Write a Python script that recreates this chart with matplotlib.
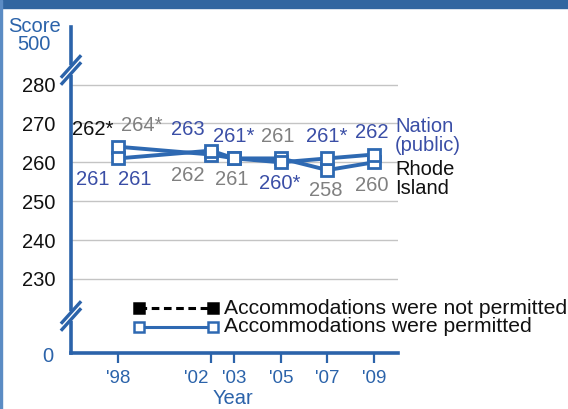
import matplotlib
matplotlib.use("Agg")
import matplotlib.pyplot as plt
import matplotlib.transforms as mtransforms
from matplotlib.lines import Line2D
from matplotlib.patches import Rectangle

plt.rcParams['font.family'] = ['Liberation Sans', 'DejaVu Sans']

# ---------------- data ----------------
years = [1998, 2002, 2003, 2005, 2007, 2009]
year_labels = ["'98", "'02", "'03", "'05", "'07", "'09"]
nation = [261, 263, 261, 260, 261, 262]
nation_sig = [False, False, True, True, True, False]
rhode_island = [264, 262, 261, 261, 258, 260]
ri_sig = [True, False, False, False, False, False]
# accommodations not permitted (1998 only)
nation_np = [261]
nation_np_sig = [False]
ri_np = [262]
ri_np_sig = [True]
np_years = [1998]
grid_ticks = [230, 240, 250, 260, 270, 280]

# ---------------- style ----------------
W, H = 568, 409
BLUE = '#2B63AA'
LINE = '#2E69B2'
NAT_TXT = '#3A4EA6'
GRAY_TXT = '#808080'
FS = 14.5

fig = plt.figure(figsize=(W / 100, H / 100), dpi=100)
fig.patch.set_facecolor('white')

def px(x, y):
    return x / W, 1 - y / H

# frame decorations
fig.patches.append(Rectangle((0, 1 - 8 / H), 1, 8 / H, transform=fig.transFigure,
                             color='#3166A0', zorder=0))
fig.patches.append(Rectangle((0, 0), 2 / W, 1, transform=fig.transFigure,
                             color='#5B8CC4', zorder=0))

left, right, bottom, top = 71, 398, 353, 27
ax = fig.add_axes([left / W, 1 - bottom / H, (right - left) / W, (bottom - top) / H])
ax.set_facecolor('none')

# fake linear scale around the broken axis
ax.set_xlim(1998 - (118 - left) / 23.27, 1998 + (right - 118) / 23.27)
ax.set_ylim(260 - (bottom - 162.3) / 3.89, 260 + (162.3 - top) / 3.89)

for s in ['top', 'right']:
    ax.spines[s].set_visible(False)
for s in ['left', 'bottom']:
    ax.spines[s].set_color(BLUE)
    ax.spines[s].set_linewidth(2.6)

ax.set_yticks(grid_ticks)
ax.set_yticklabels([str(t) for t in grid_ticks], fontsize=FS, color='#111111')
ax.tick_params(axis='y', length=0, pad=11)
ax.grid(axis='y', color='#C4C4C4', lw=1)
ax.set_axisbelow(True)

ax.set_xticks(years)
ax.set_xticklabels(year_labels, fontsize=13.5, color=BLUE)
ax.tick_params(axis='x', direction='out', length=7, width=1.6, color=BLUE, pad=5)
# nudge the crowded '02 label to the left, as in the original
lbl02 = ax.get_xticklabels()[1]
lbl02.set_transform(lbl02.get_transform() +
                    mtransforms.ScaledTranslation(-15 / 100, 0, fig.dpi_scale_trans))

# lines
mk = dict(marker='s', markersize=8, markerfacecolor='white', markeredgecolor=LINE,
          markeredgewidth=2, color=LINE, lw=2.8, clip_on=False, zorder=4)
ax.plot(years, rhode_island, **mk)
ax.plot(years, nation, **mk)

def lab(v, sig):
    return f"{v}*" if sig else f"{v}"

nat_off = [(17, 21), (-23, -21), (-1, -22), (-1, 21), (-1, -22), (-2, -22)]
ri_off = [(24, -21), (-23, 21), (-3, 21), (-3, -22), (-2, 20), (-2, 23)]
for x, v, s, (dx, dy) in zip(years, nation, nation_sig, nat_off):
    ax.annotate(lab(v, s), (x, v), xytext=(dx * 0.72, -dy * 0.72), textcoords='offset points',
                ha='center', va='center', fontsize=FS, color=NAT_TXT, zorder=5)
for x, v, s, (dx, dy) in zip(years, rhode_island, ri_sig, ri_off):
    ax.annotate(lab(v, s), (x, v), xytext=(dx * 0.72, -dy * 0.72), textcoords='offset points',
                ha='center', va='center', fontsize=FS, color=GRAY_TXT, zorder=5)
for x, v, s in zip(np_years, nation_np, nation_np_sig):
    ax.annotate(lab(v, s), (x, v), xytext=(-25 * 0.72, -21 * 0.72), textcoords='offset points',
                ha='center', va='center', fontsize=FS, color=NAT_TXT, zorder=5)
for x, v, s in zip(np_years, ri_np, ri_np_sig):
    ax.annotate(lab(v, s), (x, v), xytext=(-25 * 0.72, 25 * 0.72), textcoords='offset points',
                ha='center', va='center', fontsize=FS, color='#111111', zorder=5)

# series names at right
ax.annotate("Nation\n(public)", (years[-1], nation[-1]), xytext=(21 * 0.72, 18.5 * 0.72),
            textcoords='offset points', ha='left', va='center', fontsize=FS,
            color=NAT_TXT, linespacing=1.0, annotation_clip=False)
ax.annotate("Rhode\nIsland", (years[-1], rhode_island[-1]), xytext=(21 * 0.72, -17 * 0.72),
            textcoords='offset points', ha='left', va='center', fontsize=FS,
            color='#111111', linespacing=1.0, annotation_clip=False)

# axis labels and broken-axis values
fig.text(*px(35, 26), "Score", ha='center', va='center', fontsize=FS, color=BLUE)
fig.text(*px(51, 45), "500", ha='right', va='center', fontsize=FS, color=BLUE)
fig.text(*px(53, 356), "0", ha='right', va='center', fontsize=FS, color=BLUE)
fig.text(*px(233, 399), "Year", ha='center', va='center', fontsize=FS, color=BLUE)

# break marks
for yb in (70, 316):
    xs = [62, 80]
    for off in (-3.5, 3.5):
        ys = [yb + 10 + off, yb - 10 + off]
        fig.lines.append(Line2D([px(x, 0)[0] for x in xs], [px(0, y)[1] for y in ys],
                                transform=fig.transFigure, color=BLUE, lw=2.4, zorder=6))
    fig.lines.append(Line2D([px(71, 0)[0]] * 2, [px(0, yb - 2)[1], px(0, yb + 2)[1]],
                            transform=fig.transFigure, color='white', lw=4, zorder=5.5))

# legend (manual)
def leg_row(y, style, mfc, mec, color, text):
    fig.lines.append(Line2D([px(139, 0)[0], px(213, 0)[0]], [px(0, y)[1]] * 2,
                            transform=fig.transFigure, color=color, lw=2.2, linestyle=style,
                            marker='s', markersize=7, markerfacecolor=mfc,
                            markeredgecolor=mec, markeredgewidth=1.8, zorder=6))
    fig.text(*px(224, y), text, ha='left', va='center', fontsize=15.2, color='#111111')

leg_row(308, (0, (2.5, 1.5)), 'black', 'black', 'black', "Accommodations were not permitted")
leg_row(327, '-', 'white', LINE, LINE, "Accommodations were permitted")

fig.savefig('out.png', dpi=100)
